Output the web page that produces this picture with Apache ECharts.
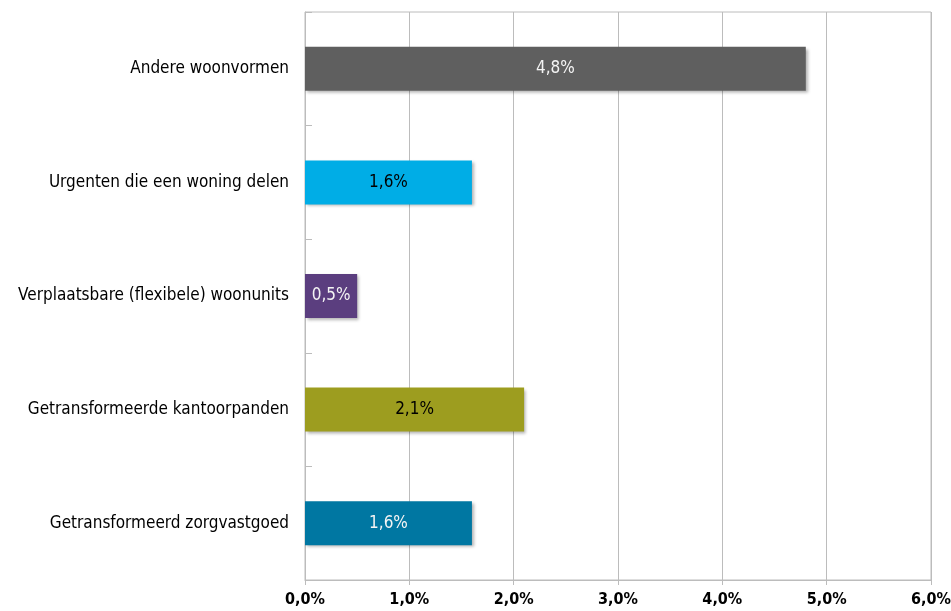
<!DOCTYPE html>
<html>
<head>
<meta charset="utf-8">
<script src="https://cdn.jsdelivr.net/npm/echarts@6/dist/echarts.min.js"></script>
<style>
  html, body { margin: 0; padding: 0; background: #fff; }
  #chart { width: 951px; height: 611px; }
</style>
</head>
<body>
<div id="chart"></div>
<script>
// Housing forms, share in percent (bottom to top on the category axis)
const categories = [
  'Getransformeerd zorgvastgoed',
  'Getransformeerde kantoorpanden',
  'Verplaatsbare (flexibele) woonunits',
  'Urgenten die een woning delen',
  'Andere woonvormen'
];
const shares = [1.6, 2.1, 0.5, 1.6, 4.8];
const barColors = ['#0077a2', '#9d9d1f', '#5b3e7f', '#00ade6', '#5f5f5f'];
const labelColors = ['#f4f4f4', '#000000', '#f4f4f4', '#000000', '#f4f4f4'];
const xTicks = [0, 1, 2, 3, 4, 5, 6];

const fontFamily = '"DejaVu Sans Condensed", "DejaVu Sans", sans-serif';
const pct = v => v.toFixed(1).replace('.', ',') + '%';

const chart = echarts.init(document.getElementById('chart'), null, { renderer: 'canvas' });
chart.setOption({
  animation: false,
  backgroundColor: '#ffffff',
  grid: {
    left: 305, right: 20, top: 12, bottom: 31,
    outerBoundsMode: 'none',
    containLabel: false,
    show: true, borderColor: '#bcbcbc', borderWidth: 1
  },
  xAxis: {
    type: 'value',
    min: xTicks[0],
    max: xTicks[xTicks.length - 1],
    interval: 1,
    axisLine: { show: true, lineStyle: { color: '#bcbcbc', width: 1 } },
    axisTick: { show: true, length: 5, lineStyle: { color: '#bcbcbc' } },
    splitLine: { show: true, lineStyle: { color: '#bcbcbc', width: 1 } },
    axisLabel: {
      formatter: v => pct(v),
      color: '#000',
      fontFamily: fontFamily,
      fontWeight: 'bold',
      fontSize: 16,
      margin: 12
    }
  },
  yAxis: {
    type: 'category',
    data: categories,
    axisLine: { show: true, lineStyle: { color: '#bcbcbc', width: 1 } },
    axisTick: { show: true, inside: true, length: 7, lineStyle: { color: '#bcbcbc' } },
    splitLine: { show: false },
    axisLabel: {
      color: '#000',
      fontFamily: fontFamily,
      fontSize: 17,
      margin: 16
    }
  },
  series: [{
    type: 'bar',
    barWidth: 44,
    data: shares.map((v, i) => ({
      value: v,
      itemStyle: { color: barColors[i] },
      label: { color: labelColors[i] }
    })),
    itemStyle: {
      shadowBlur: 3,
      shadowOffsetX: 2,
      shadowOffsetY: 2,
      shadowColor: 'rgba(0,0,0,0.3)'
    },
    label: {
      show: true,
      position: 'inside',
      formatter: p => pct(p.value),
      fontFamily: fontFamily,
      fontSize: 17
    }
  }]
});
</script>
</body>
</html>
